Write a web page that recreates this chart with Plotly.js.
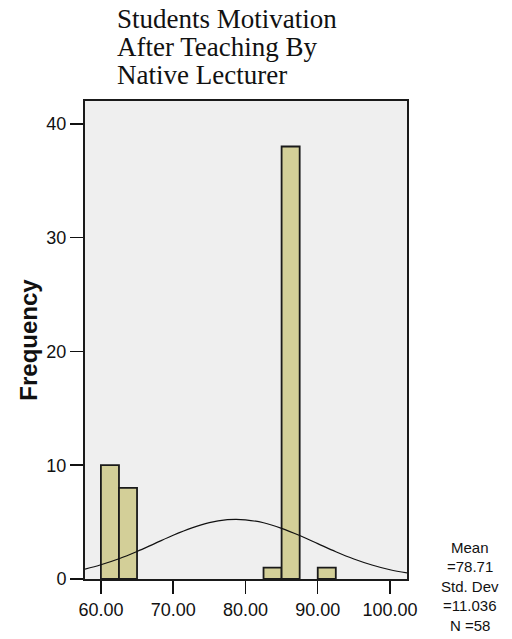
<!DOCTYPE html>
<html>
<head>
<meta charset="utf-8">
<script src="https://cdn.plot.ly/plotly-3.0.1.min.js"></script>
<style>html,body{margin:0;padding:0;background:#fff;}#chart{width:512px;height:639px;}</style>
</head>
<body>
<div id="chart"></div>
<script>
// Histogram bins (centres of 2.5-wide bins) and their frequencies
var binCenters = [61.25, 63.75, 83.75, 86.25, 91.25];
var frequencies = [10, 8, 1, 38, 1];
var binWidth = 2.5;

// Normal curve
var curveX = [57.8, 60, 62.5, 65, 67.5, 70, 72.5, 75, 77.5, 78.7, 80, 82.5, 85, 87.5, 90, 92.5, 95, 97.5, 100, 102.35];
var curveY = [0.87, 1.25, 1.78, 2.42, 3.13, 3.84, 4.47, 4.95, 5.21, 5.24, 5.2, 4.94, 4.45, 3.82, 3.11, 2.4, 1.76, 1.23, 0.81, 0.53];

// Tick labels
var xTickVals = [60, 70, 80, 90, 100];
var xTickText = ["60.00", "70.00", "80.00", "90.00", "100.00"];
var yTickVals = [0, 10, 20, 30, 40];

var titleLines = ["Students Motivation", "After Teaching By", "Native Lecturer"];
var statLines = ["Mean", "=78.71", "Std. Dev", "=11.036", "N =58"];

var traces = [
  {
    type: 'bar',
    x: binCenters,
    y: frequencies,
    width: binWidth,
    marker: {color: '#d3cf98', line: {color: '#1a1a1a', width: 1.8}},
    hoverinfo: 'x+y'
  },
  {
    type: 'scatter',
    mode: 'lines',
    x: curveX,
    y: curveY,
    line: {color: '#111', width: 1.2, shape: 'spline'},
    hoverinfo: 'skip'
  }
];

var titleShifts = [82, 54, 26];
var statShifts = [32, 12.5, -7, -26.5, -46];
var annotations = [];
titleLines.forEach(function (t, i) {
  annotations.push({
    text: t, xref: 'paper', yref: 'paper', x: 0, y: 1,
    xshift: 30, yshift: titleShifts[i],
    xanchor: 'left', yanchor: 'middle', showarrow: false,
    font: {family: 'Liberation Serif, Times New Roman, serif', size: 27, color: '#111'}
  });
});
statLines.forEach(function (t, i) {
  annotations.push({
    text: t, xref: 'paper', yref: 'paper', x: 1, y: 0,
    xshift: 63, yshift: statShifts[i],
    xanchor: 'center', yanchor: 'middle', showarrow: false,
    font: {family: 'Liberation Sans, Arial, sans-serif', size: 15, color: '#111'}
  });
});

var layout = {
  width: 512, height: 639,
  margin: {l: 85, r: 105, t: 101, b: 60},
  paper_bgcolor: '#ffffff',
  plot_bgcolor: '#efefef',
  showlegend: false,
  bargap: 0,
  font: {family: 'Liberation Sans, Arial, sans-serif', color: '#111'},
  xaxis: {
    range: [57.8, 102.35],
    tickvals: xTickVals, ticktext: xTickText,
    ticks: 'outside', ticklen: 13, tickwidth: 1.5, tickcolor: '#111',
    showline: true, linecolor: '#1a1a1a', linewidth: 2, mirror: true,
    showgrid: false, zeroline: false,
    tickfont: {size: 18, color: '#111'}
  },
  yaxis: {
    range: [0, 42],
    tickvals: yTickVals,
    ticks: 'outside', ticklen: 13, tickwidth: 1.5, tickcolor: '#111',
    showline: true, linecolor: '#1a1a1a', linewidth: 2, mirror: true,
    showgrid: false, zeroline: false,
    tickfont: {size: 18, color: '#111'},
    title: {text: '<b>Frequency</b>', font: {size: 24, color: '#111'}, standoff: 2}
  },
  annotations: annotations
};

Plotly.newPlot('chart', traces, layout, {displayModeBar: false, staticPlot: true});
</script>
</body>
</html>
